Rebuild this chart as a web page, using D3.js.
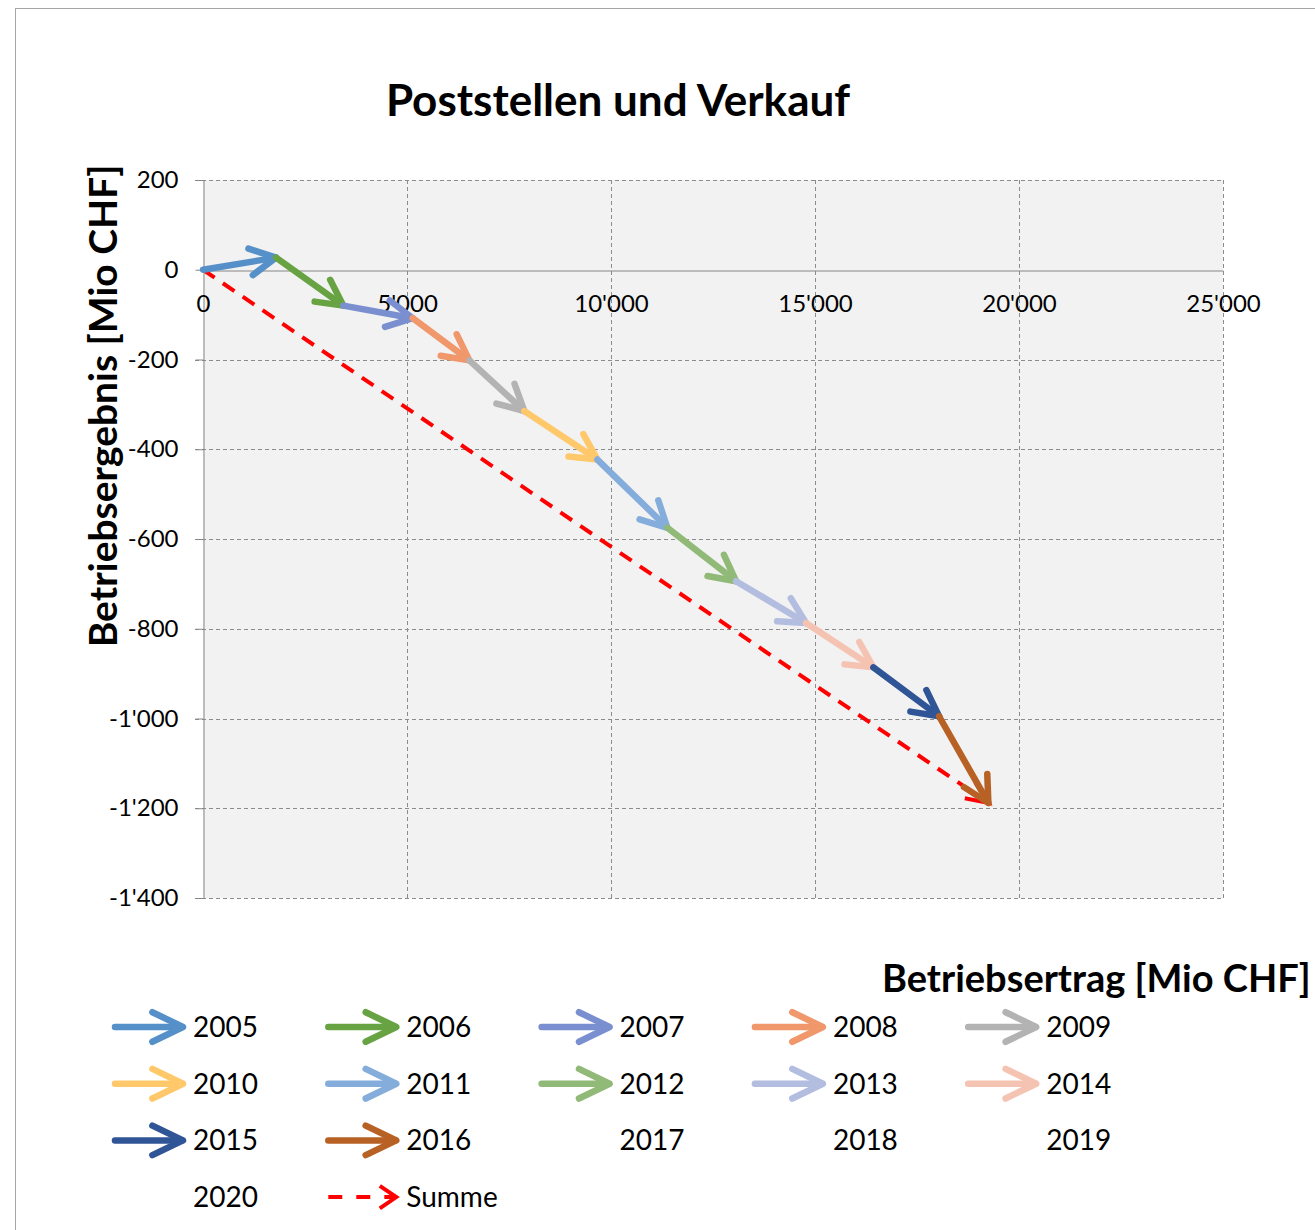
<!DOCTYPE html>
<html>
<head>
<meta charset="utf-8">
<script src="https://cdn.jsdelivr.net/npm/d3@7"></script>
<style>
  body { margin: 0; background: #fff; }
  svg { display: block; font-family: Lato, "Open Sans", sans-serif; }
</style>
</head>
<body>
<svg id="chart"></svg>
<script>
// yearly values (Mio CHF); 2017-2020 have no data
var years = ["2005", "2006", "2007", "2008", "2009", "2010", "2011", "2012", "2013", "2014", "2015", "2016", "2017", "2018", "2019", "2020"];
var ertrag = [1790, 1650, 1700, 1389, 1348, 1789, 1716, 1683, 1715, 1651, 1609, 1209];
var ergebnis = [27, -107, -28, -94, -113, -108, -152, -119, -93, -99, -109, -193];
var colors = ["#5590c8", "#68a343", "#7a8fd0", "#f0976c", "#b3b3b3", "#ffc96b", "#84addc", "#91ba78", "#b3bde0", "#f5c3b1", "#2f5597", "#b86124"];
var xTicks = [0, 5000, 10000, 15000, 20000, 25000];
var yTicks = [200, 0, -200, -400, -600, -800, -1000, -1200, -1400];

var width = 1315, height = 1230;
var svg = d3.select("#chart").attr("width", width).attr("height", height);

// outer chart border
svg.append("rect")
    .attr("x", 15.5).attr("y", 8.5)
    .attr("width", 1320).attr("height", 1240)
    .attr("fill", "none").attr("stroke", "#a6a6a6");

var x = d3.scaleLinear().domain([0, 25000]).range([203, 1223]);
var y = d3.scaleLinear().domain([-1400, 200]).range([898, 180]);

// plot area
svg.append("rect")
    .attr("x", x(0)).attr("y", y(200))
    .attr("width", x(25000) - x(0)).attr("height", y(-1400) - y(200))
    .attr("fill", "#f2f2f2");

// grid
svg.selectAll(".vgrid")
    .data(xTicks.filter(function(d) { return d != 0; }))
    .enter().append("line")
    .attr("x1", function(d) { return Math.round(x(d)) + 0.5; })
    .attr("x2", function(d) { return Math.round(x(d)) + 0.5; })
    .attr("y1", y(200)).attr("y2", y(-1400))
    .attr("stroke", "#8c8c8c").attr("stroke-dasharray", "4,3");

svg.selectAll(".hgrid")
    .data(yTicks.filter(function(d) { return d != 0; }))
    .enter().append("line")
    .attr("x1", x(0) - 8).attr("x2", x(25000))
    .attr("y1", function(d) { return Math.round(y(d)) + 0.5; })
    .attr("y2", function(d) { return Math.round(y(d)) + 0.5; })
    .attr("stroke", "#8c8c8c").attr("stroke-dasharray", "4,3");

// y axis (left) and x axis (at zero)
var yAxis = d3.axisLeft(y).tickValues(yTicks).tickSize(8).tickPadding(17)
    .tickFormat(function(d) { return d3.format(",")(d).replace(/,/g, "'").replace("−", "-"); });
var gy = svg.append("g").attr("transform", "translate(" + (Math.round(x(0)) + 0.5) + ",0)").call(yAxis);
gy.select(".domain").attr("stroke", "#868686");
gy.selectAll(".tick line").attr("stroke", "#868686");
gy.selectAll(".tick text").attr("font-size", 24).attr("fill", "#000").attr("font-family", "Lato");

var xAxis = d3.axisBottom(x).tickValues(xTicks).tickSize(0).tickPadding(24)
    .tickFormat(function(d) { return d3.format(",")(d).replace(/,/g, "'"); });
var gx = svg.append("g").attr("transform", "translate(0," + (Math.round(y(0)) + 0.5) + ")").call(xAxis);
gx.select(".domain").attr("stroke", "#868686");
gx.selectAll(".tick text").attr("font-size", 24).attr("fill", "#000").attr("font-family", "Lato");

function arrowHead(x1, y1, x2, y2, len, ang) {
    var a = Math.atan2(y2 - y1, x2 - x1);
    var p1 = [x2 - len * Math.cos(a - ang), y2 - len * Math.sin(a - ang)];
    var p2 = [x2 - len * Math.cos(a + ang), y2 - len * Math.sin(a + ang)];
    return "M" + p1 + "L" + x2 + "," + y2 + "L" + p2;
}

// cumulative points
var cx = [0].concat(Array.from(d3.cumsum(ertrag)));
var cy = [0].concat(Array.from(d3.cumsum(ergebnis)));

// Summe dashed line
var sx = cx[cx.length - 1], sy = cy[cy.length - 1];
svg.append("line")
    .attr("x1", x(0)).attr("y1", y(0)).attr("x2", x(sx)).attr("y2", y(sy))
    .attr("stroke", "#ff0000").attr("stroke-width", 4).attr("stroke-dasharray", "14,10");
svg.append("path")
    .attr("d", arrowHead(x(0), y(0), x(sx), y(sy), 24, 0.4))
    .attr("fill", "none").attr("stroke", "#ff0000").attr("stroke-width", 4);

// yearly arrows
var arrows = svg.selectAll(".arrow")
    .data(ertrag)
    .enter().append("g").attr("class", "arrow");
arrows.append("line")
    .attr("x1", function(d, i) { return x(cx[i]); })
    .attr("y1", function(d, i) { return y(cy[i]); })
    .attr("x2", function(d, i) { return x(cx[i + 1]); })
    .attr("y2", function(d, i) { return y(cy[i + 1]); })
    .attr("stroke", function(d, i) { return colors[i]; })
    .attr("stroke-width", 6.5).attr("stroke-linecap", "round");
arrows.append("path")
    .attr("d", function(d, i) { return arrowHead(x(cx[i]), y(cy[i]), x(cx[i + 1]), y(cy[i + 1]), 29, 0.48); })
    .attr("fill", "none")
    .attr("stroke", function(d, i) { return colors[i]; })
    .attr("stroke-width", 6.5).attr("stroke-linecap", "round").attr("stroke-linejoin", "round");

// titles
svg.append("text")
    .attr("x", 618).attr("y", 116)
    .attr("text-anchor", "middle").attr("font-weight", "bold").attr("font-size", 44)
    .text("Poststellen und Verkauf");

svg.append("text")
    .attr("transform", "translate(117,406) rotate(-90)")
    .attr("text-anchor", "middle").attr("font-weight", "bold").attr("font-size", 39)
    .text("Betriebsergebnis [Mio CHF]");

svg.append("text")
    .attr("x", 882).attr("y", 992)
    .attr("font-weight", "bold").attr("font-size", 38)
    .text("Betriebsertrag [Mio CHF]");

// legend
var legendItems = years.concat(["Summe"]);
var legend = svg.selectAll(".legend")
    .data(legendItems)
    .enter().append("g").attr("class", "legend")
    .attr("transform", function(d, i) { return "translate(" + (115 + (i % 5) * 213.3) + "," + (1027 + Math.floor(i / 5) * 56.7) + ")"; });

legend.each(function(d, i) {
    var g = d3.select(this);
    if (i < ertrag.length) {
        g.append("line").attr("x1", 0).attr("y1", 0).attr("x2", 67).attr("y2", 0)
            .attr("stroke", colors[i]).attr("stroke-width", 6.5).attr("stroke-linecap", "round");
        g.append("path").attr("d", arrowHead(0, 0, 68, 0, 34, 0.45))
            .attr("fill", "none").attr("stroke", colors[i]).attr("stroke-width", 6.5)
            .attr("stroke-linecap", "round").attr("stroke-linejoin", "round");
    } else if (d == "Summe") {
        g.append("line").attr("x1", 0).attr("y1", 0).attr("x2", 68).attr("y2", 0)
            .attr("stroke", "#ff0000").attr("stroke-width", 4).attr("stroke-dasharray", "14,14");
        g.append("path").attr("d", arrowHead(0, 0, 68, 0, 20, 0.6))
            .attr("fill", "none").attr("stroke", "#ff0000").attr("stroke-width", 4);
    }
    g.append("text").attr("x", 78).attr("y", 10)
        .attr("font-size", 28).text(d);
});
</script>
</body>
</html>
